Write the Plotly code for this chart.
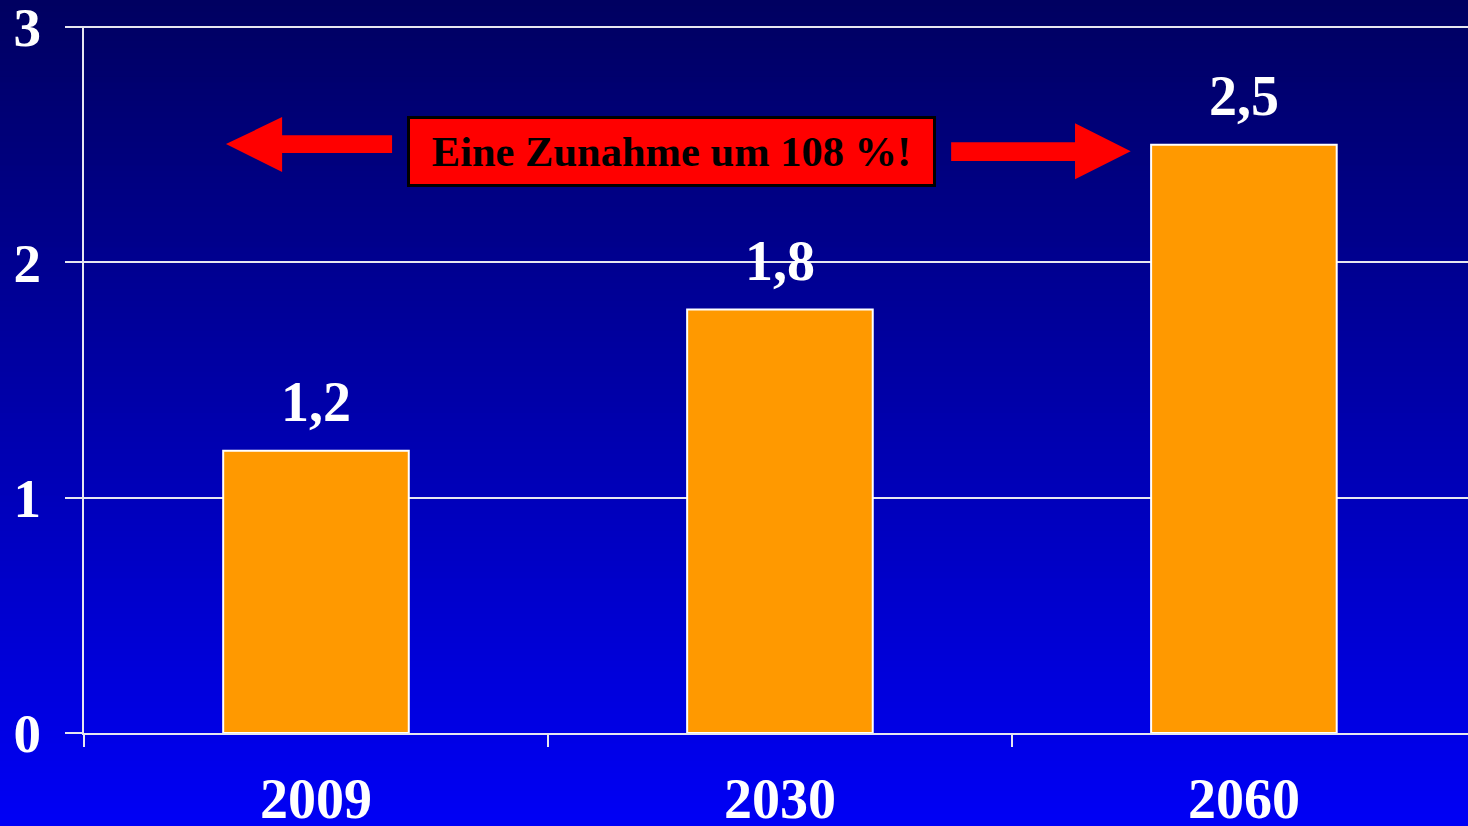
import plotly.graph_objects as go

# ---- data ----
categories = ["2009", "2030", "2060"]
values = [1.2, 1.8, 2.5]
value_labels = ["1,2", "1,8", "2,5"]
y_ticks = [0, 1, 2, 3]
callout_text = "Eine Zunahme um 108 %!"

FONT = "Liberation Serif"
W, H = 1468, 826
L, R, T, B = 84, 0, 26, 93
YMAX = 3.005

fig = go.Figure()
fig.add_trace(go.Bar(
    x=categories, y=values, width=0.4,
    marker=dict(color="#FF9900", line=dict(color="white", width=2)),
    hoverinfo="skip",
))

shapes = []
# background vertical gradient (strips across the whole paper)
n = 140
top = (0, 0, 96)
bot = (0, 0, 246)
plot_h = H - T - B
plot_w = W - L - R
for i in range(n):
    f0 = i / n
    f1 = (i + 1) / n
    fm = (i + 0.5) / n
    c = tuple(round(top[k] + (bot[k] - top[k]) * fm) for k in range(3))
    py0 = f0 * H
    py1 = f1 * H + 1
    shapes.append(dict(
        type="rect", xref="paper", yref="paper", layer="below",
        x0=-L / plot_w, x1=1 + R / plot_w + 0.01,
        y0=(H - B - py1) / plot_h, y1=(H - B - py0) / plot_h,
        fillcolor="rgb(%d,%d,%d)" % c, line=dict(width=0),
    ))

# block arrows (decoration) in data coordinates
left_arrow = "M -0.194,2.503 L -0.073,2.618 L -0.073,2.541 L 0.164,2.541 L 0.164,2.465 L -0.073,2.465 L -0.073,2.384 Z"
right_arrow = "M 1.756,2.473 L 1.636,2.592 L 1.636,2.511 L 1.369,2.511 L 1.369,2.431 L 1.636,2.431 L 1.636,2.354 Z"
for p in (left_arrow, right_arrow):
    shapes.append(dict(type="path", xref="x", yref="y", path=p,
                       fillcolor="#FF0000", line=dict(width=0), layer="above"))

annotations = []
for i, (v, t) in enumerate(zip(values, value_labels)):
    annotations.append(dict(
        x=i, y=v, text=t, showarrow=False, xref="x", yref="y",
        yanchor="bottom", yshift=16,
        font=dict(family=FONT, size=56, color="white", weight="bold"),
    ))
annotations.append(dict(
    x=0.766, y=2.471, xref="x", yref="y", text=callout_text, showarrow=False,
    bgcolor="#FF0000", bordercolor="black", borderwidth=3, borderpad=0,
    width=523, height=65, xanchor="center", yanchor="middle",
    font=dict(family=FONT, size=42.5, color="black", weight="bold"),
))

fig.update_layout(
    width=W, height=H, autosize=False,
    margin=dict(l=L, r=R, t=T, b=B, pad=0),
    paper_bgcolor="rgb(0,0,96)", plot_bgcolor="rgba(0,0,0,0)",
    showlegend=False, shapes=shapes, annotations=annotations,
    xaxis=dict(
        type="category", range=[-0.5, 2.483], tickson="boundaries",
        ticks="outside", ticklen=12, tickwidth=2, tickcolor="#E6E6F0",
        showline=True, linecolor="#E6E6F0", linewidth=2,
        showgrid=False, zeroline=False, automargin=False,
        ticklabeloverflow="allow",
        tickfont=dict(family=FONT, size=56, color="white", weight="bold"),
        ticklabelstandoff=16,
    ),
    yaxis=dict(
        range=[0, YMAX], tickvals=y_ticks, ticktext=[str(t) for t in y_ticks],
        ticks="outside", ticklen=17, tickwidth=2, tickcolor="#E6E6F0",
        showline=True, linecolor="#E6E6F0", linewidth=2,
        showgrid=True, gridcolor="#E6E6F0", gridwidth=2, zeroline=False,
        automargin=False, ticklabeloverflow="allow",
        tickfont=dict(family=FONT, size=55, color="white", weight="bold"),
        ticklabelstandoff=13,
    ),
)

fig.write_html("out.html", config={"displayModeBar": False},
               post_script="document.body.style.margin='0';document.body.style.overflow='hidden';")
